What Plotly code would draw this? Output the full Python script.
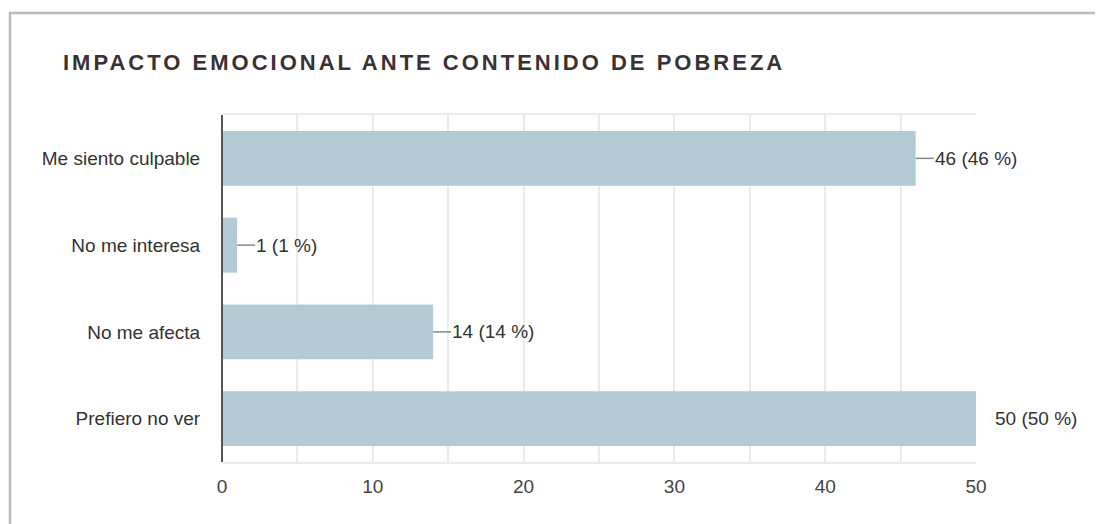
import plotly.graph_objects as go

categories = ["Me siento culpable", "No me interesa", "No me afecta", "Prefiero no ver"]
values = [46, 1, 14, 50]
percents = [46, 1, 14, 50]
x_ticks = [0, 10, 20, 30, 40, 50]

# page body has an 8px margin; figure is sized/positioned to compensate
OFF = 8
W, H = 1103 - OFF, 524 - OFF
L, R, T, B = 222 - OFF, 127, 115 - OFF, 62
pw, ph = W - L - R, H - T - B

def px_x(page_px):
    return (page_px - OFF - L) / pw

def px_y(page_py):
    return (H - B - (page_py - OFF)) / ph

bar_color = "#b4cad4"
text_color = "#333333"
font_family = "Liberation Sans, Arial, Helvetica, sans-serif"

fig = go.Figure()
fig.add_trace(go.Bar(
    x=values, y=categories, orientation="h",
    marker=dict(color=bar_color, line=dict(width=0)),
    hoverinfo="skip",
))

vmax = max(values)
shapes = []
annotations = []
for cat, v, p in zip(categories, values, percents):
    if v == vmax:
        line_len, shift = 4, 17
    else:
        line_len, shift = 18, 17
    shapes.append(dict(
        type="line", xref="x", yref="y", xsizemode="pixel", xanchor=v,
        x0=0, x1=line_len, y0=cat, y1=cat,
        line=dict(color="#888888", width=1.5), layer="above",
    ))
    annotations.append(dict(
        x=v, y=cat, xref="x", yref="y", text=f"{v} ({p} %)",
        showarrow=False, xanchor="left", yanchor="middle", xshift=shift,
        font=dict(size=19, color=text_color, family=font_family),
    ))

# outer frame
shapes.append(dict(
    type="rect", xref="paper", yref="paper",
    x0=px_x(10), x1=px_x(1125), y0=px_y(545), y1=px_y(13),
    line=dict(color="#bbbbbb", width=2.5), fillcolor="rgba(0,0,0,0)", layer="below",
))
# left axis line (dark)
shapes.append(dict(
    type="line", xref="paper", yref="paper", x0=0, x1=0, y0=0, y1=1,
    line=dict(color="#555555", width=2), layer="above",
))

fig.update_layout(
    width=W, height=H,
    margin=dict(l=L, r=R, t=T, b=B),
    paper_bgcolor="white", plot_bgcolor="white",
    showlegend=False,
    bargap=0.366,
    title=dict(
        text="<b>IMPACTO EMOCIONAL ANTE CONTENIDO DE POBREZA</b>",
        x=(63 - OFF) / W, xanchor="left", xref="container",
        y=1 - (62 - OFF) / H, yanchor="middle", yref="container",
        font=dict(size=22, color="#3a3232", family=font_family),
    ),
    xaxis=dict(
        range=[0, 50], tickvals=x_ticks, ticks="", showgrid=True,
        gridcolor="#ebebeb", gridwidth=1.5,
        minor=dict(dtick=5, showgrid=True, gridcolor="#ebebeb", gridwidth=1.5),
        showline=True, linecolor="#ebebeb", linewidth=1.5, mirror=True,
        zeroline=False,
        tickfont=dict(size=19, color="#444444", family=font_family),
        ticklabelstandoff=6,
    ),
    yaxis=dict(
        categoryorder="array", categoryarray=categories, autorange="reversed",
        showgrid=False, zeroline=False, showline=False,
        ticks="outside", ticklen=17, tickcolor="rgba(0,0,0,0)",
        tickfont=dict(size=19, color=text_color, family=font_family),
    ),
    shapes=shapes,
    annotations=annotations,
)

post = """
var gd = document.getElementById('{plot_id}');
function spaceTitle(){
  var t = gd.querySelector('.gtitle');
  if (t) { t.style.letterSpacing = '3px'; }
}
spaceTitle();
gd.on && gd.on('plotly_afterplot', spaceTitle);
"""

fig.write_html("out.html", post_script=post)
